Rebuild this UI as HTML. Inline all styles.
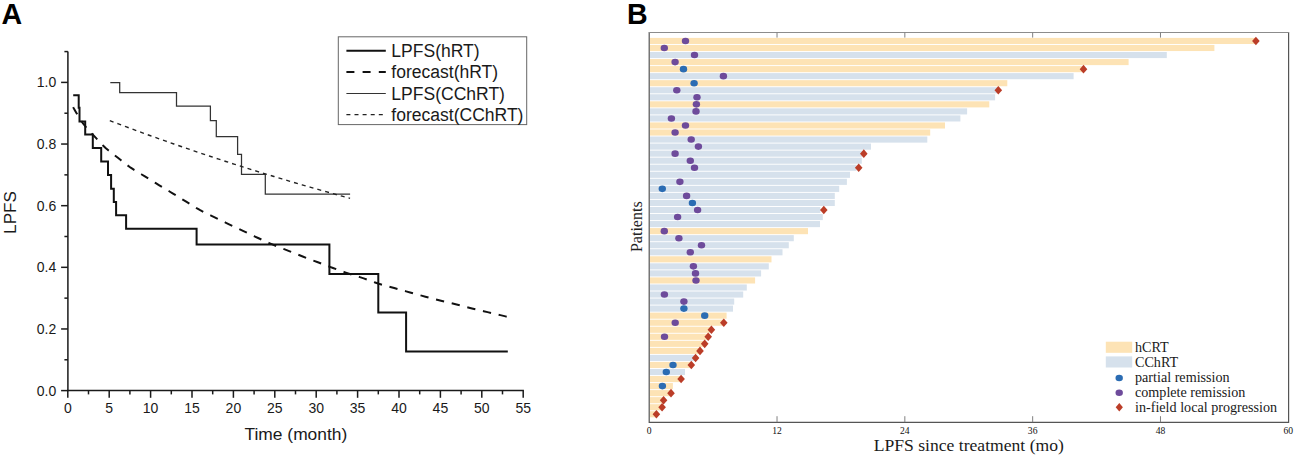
<!DOCTYPE html>
<html><head><meta charset="utf-8"><title>LPFS</title>
<style>html,body{margin:0;padding:0;background:#fff;}body{width:1297px;height:457px;overflow:hidden;}svg{display:block;}</style>
</head><body>
<svg width="1297" height="457" viewBox="0 0 1297 457">
<rect x="0" y="0" width="1297" height="457" fill="#fff"/>
<g fill="none" stroke="#1a1a1a" stroke-width="1.5">
<line x1="67.9" y1="51.4" x2="67.9" y2="391.3"/>
<line x1="67.1" y1="390.6" x2="523.9" y2="390.6"/>
<line x1="61.1" y1="390.6" x2="67.9" y2="390.6"/>
<line x1="64.4" y1="359.78" x2="67.9" y2="359.78"/>
<line x1="61.1" y1="328.96" x2="67.9" y2="328.96"/>
<line x1="64.4" y1="298.14" x2="67.9" y2="298.14"/>
<line x1="61.1" y1="267.32" x2="67.9" y2="267.32"/>
<line x1="64.4" y1="236.5" x2="67.9" y2="236.5"/>
<line x1="61.1" y1="205.68" x2="67.9" y2="205.68"/>
<line x1="64.4" y1="174.86" x2="67.9" y2="174.86"/>
<line x1="61.1" y1="144.04" x2="67.9" y2="144.04"/>
<line x1="64.4" y1="113.22" x2="67.9" y2="113.22"/>
<line x1="61.1" y1="82.4" x2="67.9" y2="82.4"/>
<line x1="64.4" y1="51.58" x2="67.9" y2="51.58"/>
<line x1="67.8" y1="390.6" x2="67.8" y2="397.8"/>
<line x1="88.5" y1="390.6" x2="88.5" y2="394.4"/>
<line x1="109.2" y1="390.6" x2="109.2" y2="397.8"/>
<line x1="129.9" y1="390.6" x2="129.9" y2="394.4"/>
<line x1="150.6" y1="390.6" x2="150.6" y2="397.8"/>
<line x1="171.3" y1="390.6" x2="171.3" y2="394.4"/>
<line x1="192" y1="390.6" x2="192" y2="397.8"/>
<line x1="212.7" y1="390.6" x2="212.7" y2="394.4"/>
<line x1="233.4" y1="390.6" x2="233.4" y2="397.8"/>
<line x1="254.1" y1="390.6" x2="254.1" y2="394.4"/>
<line x1="274.8" y1="390.6" x2="274.8" y2="397.8"/>
<line x1="295.5" y1="390.6" x2="295.5" y2="394.4"/>
<line x1="316.2" y1="390.6" x2="316.2" y2="397.8"/>
<line x1="336.9" y1="390.6" x2="336.9" y2="394.4"/>
<line x1="357.6" y1="390.6" x2="357.6" y2="397.8"/>
<line x1="378.3" y1="390.6" x2="378.3" y2="394.4"/>
<line x1="399" y1="390.6" x2="399" y2="397.8"/>
<line x1="419.7" y1="390.6" x2="419.7" y2="394.4"/>
<line x1="440.4" y1="390.6" x2="440.4" y2="397.8"/>
<line x1="461.1" y1="390.6" x2="461.1" y2="394.4"/>
<line x1="481.8" y1="390.6" x2="481.8" y2="397.8"/>
<line x1="502.5" y1="390.6" x2="502.5" y2="394.4"/>
<line x1="523.2" y1="390.6" x2="523.2" y2="397.8"/>
</g>
<g font-family="Liberation Sans, sans-serif" font-size="14" fill="#1a1a1a">
<text x="56.3" y="395.5" text-anchor="end">0.0</text>
<text x="56.3" y="333.86" text-anchor="end">0.2</text>
<text x="56.3" y="272.22" text-anchor="end">0.4</text>
<text x="56.3" y="210.58" text-anchor="end">0.6</text>
<text x="56.3" y="148.94" text-anchor="end">0.8</text>
<text x="56.3" y="87.3" text-anchor="end">1.0</text>
<text x="67.8" y="412.6" text-anchor="middle">0</text>
<text x="109.2" y="412.6" text-anchor="middle">5</text>
<text x="150.6" y="412.6" text-anchor="middle">10</text>
<text x="192" y="412.6" text-anchor="middle">15</text>
<text x="233.4" y="412.6" text-anchor="middle">20</text>
<text x="274.8" y="412.6" text-anchor="middle">25</text>
<text x="316.2" y="412.6" text-anchor="middle">30</text>
<text x="357.6" y="412.6" text-anchor="middle">35</text>
<text x="399" y="412.6" text-anchor="middle">40</text>
<text x="440.4" y="412.6" text-anchor="middle">45</text>
<text x="481.8" y="412.6" text-anchor="middle">50</text>
<text x="523.2" y="412.6" text-anchor="middle">55</text>
</g>
<text x="295.9" y="439.6" text-anchor="middle" font-family="Liberation Sans, sans-serif" font-size="17.4" fill="#1a1a1a">Time (month)</text>
<text transform="translate(15.7,212.5) rotate(-90)" text-anchor="middle" font-family="Liberation Sans, sans-serif" font-size="17.1" fill="#1a1a1a">LPFS</text>
<text x="1.5" y="23.8" font-family="Liberation Sans, sans-serif" font-size="28.6" font-weight="bold" fill="#000">A</text>
<polyline fill="none" stroke="#111" stroke-width="2" points="73.2,95.2 78.7,95.2 78.7,107.7 79.5,107.7 79.5,121.5 85.2,121.5 85.2,134.5 92.8,134.5 92.8,148 101.2,148 101.2,161.4 108,161.4 108,175 111.1,175 111.1,188.8 113.8,188.8 113.8,202.1 116.1,202.1 116.1,215.2 126.1,215.2 126.1,228.8 196.6,228.8 196.6,244.6 329.4,244.6 329.4,274.1 378.3,274.1 378.3,312.5 406.1,312.5 406.1,351.4 507.8,351.4"/>
<polyline fill="none" stroke="#333" stroke-width="1.25" points="110.3,82.5 119.7,82.5 119.7,92.5 176.5,92.5 176.5,106.1 210.4,106.1 210.4,120.7 216.3,120.7 216.3,136.5 237.6,136.5 237.6,154.4 241.5,154.4 241.5,174.4 265.3,174.4 265.3,194.1 350.1,194.1"/>
<polyline fill="none" stroke="#111" stroke-width="2" stroke-dasharray="8.3 7.8" points="73.2,107.1 73.4,107.53 73.66,108.11 74.16,109.08 75.1,110.7 76.57,113.23 78.45,116.46 80.63,119.99 83,123.4 85.63,126.66 88.55,129.97 91.57,133.25 94.5,136.4 97.28,139.42 100,142.34 102.75,145.17 105.6,147.9 108.58,150.49 111.64,152.95 114.76,155.36 117.9,157.8 121.03,160.3 124.18,162.83 127.39,165.31 130.7,167.7 134.16,169.96 137.72,172.12 141.33,174.25 144.9,176.4 148.42,178.59 151.93,180.78 155.43,182.96 158.9,185.1 162.35,187.18 165.78,189.22 169.19,191.25 172.6,193.3 176,195.38 179.38,197.48 182.77,199.59 186.2,201.7 189.66,203.85 193.14,206.03 196.66,208.17 200.2,210.2 203.79,212.08 207.42,213.84 211.07,215.56 214.7,217.3 218.31,219.06 221.91,220.82 225.5,222.57 229.1,224.3 232.7,226.01 236.29,227.71 239.89,229.4 243.5,231.1 247.13,232.82 250.78,234.56 254.43,236.29 258.1,238 261.78,239.71 265.48,241.41 269.18,243.09 272.9,244.7 276.64,246.23 280.4,247.7 284.16,249.14 287.9,250.6 291.6,252.08 295.29,253.56 298.98,255.03 302.7,256.5 306.47,257.96 310.28,259.41 314.1,260.86 317.9,262.3 321.68,263.74 325.45,265.18 329.22,266.6 333,268 336.79,269.38 340.57,270.74 344.38,272.09 348.2,273.4 352.06,274.67 355.95,275.9 359.84,277.13 363.7,278.4 367.52,279.75 371.31,281.15 375.1,282.52 378.9,283.8 382.7,284.93 386.51,285.96 390.33,286.96 394.2,288 398.15,289.11 402.15,290.25 406.15,291.39 410.1,292.5 413.96,293.57 417.77,294.62 421.57,295.66 425.4,296.7 429.28,297.74 433.18,298.78 437.09,299.81 441,300.8 444.9,301.75 448.81,302.66 452.71,303.56 456.6,304.5 460.46,305.49 464.3,306.51 468.14,307.52 472,308.5 475.88,309.42 479.77,310.31 483.67,311.2 487.6,312.1 491.83,313.1 496.26,314.16 500.33,315.14 503.5,315.9 505.49,316.39 506.64,316.69 507.3,316.87 507.8,317"/>
<polyline fill="none" stroke="#222" stroke-width="1.4" stroke-dasharray="4 4.1" points="109.78,120.62 113.78,122.14 117.79,123.66 121.79,125.16 125.8,126.66 129.8,128.15 133.81,129.63 137.81,131.1 141.82,132.57 145.82,134.02 149.83,135.47 153.83,136.91 157.84,138.34 161.84,139.77 165.85,141.18 169.85,142.59 173.86,143.99 177.86,145.38 181.87,146.76 185.87,148.14 189.87,149.51 193.88,150.87 197.88,152.22 201.89,153.57 205.89,154.9 209.9,156.23 213.9,157.56 217.91,158.87 221.91,160.18 225.92,161.48 229.92,162.77 233.93,164.06 237.93,165.34 241.94,166.61 245.94,167.87 249.95,169.13 253.95,170.38 257.96,171.62 261.96,172.86 265.97,174.08 269.97,175.31 273.97,176.52 277.98,177.73 281.98,178.93 285.99,180.12 289.99,181.31 294,182.49 298,183.67 302.01,184.84 306.01,186 310.02,187.15 314.02,188.3 318.03,189.44 322.03,190.58 326.04,191.7 330.04,192.83 334.05,193.94 338.05,195.05 342.06,196.16 346.06,197.25 350.07,198.34"/>
<rect x="338.3" y="36.8" width="188.4" height="87.8" fill="none" stroke="#666" stroke-width="1"/>
<line x1="346.4" y1="50.8" x2="385.8" y2="50.8" stroke="#111" stroke-width="2"/>
<line x1="346.4" y1="72.0" x2="385.8" y2="72.0" stroke="#111" stroke-width="2" stroke-dasharray="8 8.2"/>
<line x1="346.4" y1="93.5" x2="385.8" y2="93.5" stroke="#333" stroke-width="1.1"/>
<line x1="346.4" y1="114.7" x2="385.8" y2="114.7" stroke="#222" stroke-width="1.2" stroke-dasharray="4 4.1"/>
<g font-family="Liberation Sans, sans-serif" font-size="17.55" fill="#1a1a1a">
<text x="391.3" y="57">LPFS(hRT)</text>
<text x="391.3" y="78.2">forecast(hRT)</text>
<text x="391.3" y="99.7">LPFS(CChRT)</text>
<text x="391.3" y="120.9">forecast(CChRT)</text>
</g>
<rect x="649.7" y="37.9" width="605.9" height="6.1" fill="#fde3b5"/>
<rect x="649.7" y="44.94" width="564.7" height="6.1" fill="#fde3b5"/>
<rect x="649.7" y="51.99" width="517.1" height="6.1" fill="#d6e1ec"/>
<rect x="649.7" y="59.03" width="478.9" height="6.1" fill="#fde3b5"/>
<rect x="649.7" y="66.08" width="433.5" height="6.1" fill="#fde3b5"/>
<rect x="649.7" y="73.12" width="423.9" height="6.1" fill="#d6e1ec"/>
<rect x="649.7" y="80.16" width="357.6" height="6.1" fill="#fde3b5"/>
<rect x="649.7" y="87.21" width="348.3" height="6.1" fill="#d6e1ec"/>
<rect x="649.7" y="94.25" width="345.4" height="6.1" fill="#d6e1ec"/>
<rect x="649.7" y="101.3" width="339.6" height="6.1" fill="#fde3b5"/>
<rect x="649.7" y="108.34" width="317.4" height="6.1" fill="#d6e1ec"/>
<rect x="649.7" y="115.38" width="310.7" height="6.1" fill="#d6e1ec"/>
<rect x="649.7" y="122.43" width="295.3" height="6.1" fill="#fde3b5"/>
<rect x="649.7" y="129.47" width="280.5" height="6.1" fill="#fde3b5"/>
<rect x="649.7" y="136.52" width="277.6" height="6.1" fill="#d6e1ec"/>
<rect x="649.7" y="143.56" width="221.3" height="6.1" fill="#d6e1ec"/>
<rect x="649.7" y="150.6" width="212.3" height="6.1" fill="#d6e1ec"/>
<rect x="649.7" y="157.65" width="212.1" height="6.1" fill="#d6e1ec"/>
<rect x="649.7" y="164.69" width="206.8" height="6.1" fill="#d6e1ec"/>
<rect x="649.7" y="171.74" width="200.3" height="6.1" fill="#d6e1ec"/>
<rect x="649.7" y="178.78" width="197.2" height="6.1" fill="#d6e1ec"/>
<rect x="649.7" y="185.82" width="189.5" height="6.1" fill="#d6e1ec"/>
<rect x="649.7" y="192.87" width="185.1" height="6.1" fill="#d6e1ec"/>
<rect x="649.7" y="199.91" width="185.1" height="6.1" fill="#d6e1ec"/>
<rect x="649.7" y="206.96" width="170.7" height="6.1" fill="#d6e1ec"/>
<rect x="649.7" y="214" width="173.1" height="6.1" fill="#d6e1ec"/>
<rect x="649.7" y="221.04" width="170.3" height="6.1" fill="#d6e1ec"/>
<rect x="649.7" y="228.09" width="158.3" height="6.1" fill="#fde3b5"/>
<rect x="649.7" y="235.13" width="144.1" height="6.1" fill="#d6e1ec"/>
<rect x="649.7" y="242.18" width="139.1" height="6.1" fill="#d6e1ec"/>
<rect x="649.7" y="249.22" width="132.8" height="6.1" fill="#d6e1ec"/>
<rect x="649.7" y="256.26" width="121.8" height="6.1" fill="#fde3b5"/>
<rect x="649.7" y="263.31" width="119.1" height="6.1" fill="#d6e1ec"/>
<rect x="649.7" y="270.35" width="111.4" height="6.1" fill="#d6e1ec"/>
<rect x="649.7" y="277.4" width="105.4" height="6.1" fill="#fde3b5"/>
<rect x="649.7" y="284.44" width="97.1" height="6.1" fill="#d6e1ec"/>
<rect x="649.7" y="291.48" width="93.5" height="6.1" fill="#d6e1ec"/>
<rect x="649.7" y="298.53" width="84.5" height="6.1" fill="#d6e1ec"/>
<rect x="649.7" y="305.57" width="83.3" height="6.1" fill="#d6e1ec"/>
<rect x="649.7" y="312.62" width="76.9" height="6.1" fill="#fde3b5"/>
<rect x="649.7" y="319.66" width="73.6" height="6.1" fill="#fde3b5"/>
<rect x="649.7" y="326.7" width="61.3" height="6.1" fill="#fde3b5"/>
<rect x="649.7" y="333.75" width="58.2" height="6.1" fill="#fde3b5"/>
<rect x="649.7" y="340.79" width="54.7" height="6.1" fill="#fde3b5"/>
<rect x="649.7" y="347.84" width="50" height="6.1" fill="#fde3b5"/>
<rect x="649.7" y="354.88" width="45.6" height="6.1" fill="#d6e1ec"/>
<rect x="649.7" y="361.92" width="41.3" height="6.1" fill="#fde3b5"/>
<rect x="649.7" y="368.97" width="35.3" height="6.1" fill="#d6e1ec"/>
<rect x="649.7" y="376.01" width="31.1" height="6.1" fill="#fde3b5"/>
<rect x="649.7" y="383.06" width="23.2" height="6.1" fill="#fde3b5"/>
<rect x="649.7" y="390.1" width="21" height="6.1" fill="#fde3b5"/>
<rect x="649.7" y="397.14" width="13.6" height="6.1" fill="#fde3b5"/>
<rect x="649.7" y="404.19" width="12.1" height="6.1" fill="#fde3b5"/>
<rect x="649.7" y="411.23" width="6.4" height="6.1" fill="#fde3b5"/>
<ellipse cx="685.5" cy="40.95" rx="3.7" ry="3.3" fill="#6e4b9b"/>
<path d="M1255.9 36.65L1259.7 40.95L1255.9 45.25L1252.1 40.95Z" fill="#bb3d28"/>
<ellipse cx="664.3" cy="47.99" rx="3.7" ry="3.3" fill="#6e4b9b"/>
<ellipse cx="694.5" cy="55.04" rx="3.7" ry="3.3" fill="#6e4b9b"/>
<ellipse cx="675.1" cy="62.08" rx="3.7" ry="3.3" fill="#6e4b9b"/>
<ellipse cx="683.5" cy="69.13" rx="3.7" ry="3.3" fill="#2b6cb3"/>
<path d="M1083.5 64.83L1087.3 69.13L1083.5 73.43L1079.7 69.13Z" fill="#bb3d28"/>
<ellipse cx="723.4" cy="76.17" rx="3.7" ry="3.3" fill="#6e4b9b"/>
<ellipse cx="694.1" cy="83.21" rx="3.7" ry="3.3" fill="#2b6cb3"/>
<ellipse cx="676.8" cy="90.26" rx="3.7" ry="3.3" fill="#6e4b9b"/>
<path d="M998.3 85.96L1002.1 90.26L998.3 94.56L994.5 90.26Z" fill="#bb3d28"/>
<ellipse cx="697" cy="97.3" rx="3.7" ry="3.3" fill="#6e4b9b"/>
<ellipse cx="696.4" cy="104.35" rx="3.7" ry="3.3" fill="#6e4b9b"/>
<ellipse cx="696" cy="111.39" rx="3.7" ry="3.3" fill="#6e4b9b"/>
<ellipse cx="671.4" cy="118.43" rx="3.7" ry="3.3" fill="#6e4b9b"/>
<ellipse cx="685.5" cy="125.48" rx="3.7" ry="3.3" fill="#6e4b9b"/>
<ellipse cx="675.1" cy="132.52" rx="3.7" ry="3.3" fill="#6e4b9b"/>
<ellipse cx="691.2" cy="139.57" rx="3.7" ry="3.3" fill="#6e4b9b"/>
<ellipse cx="698.4" cy="146.61" rx="3.7" ry="3.3" fill="#6e4b9b"/>
<ellipse cx="675.1" cy="153.65" rx="3.7" ry="3.3" fill="#6e4b9b"/>
<path d="M863.8 149.35L867.6 153.65L863.8 157.95L860 153.65Z" fill="#bb3d28"/>
<ellipse cx="690.3" cy="160.7" rx="3.7" ry="3.3" fill="#6e4b9b"/>
<ellipse cx="694.5" cy="167.74" rx="3.7" ry="3.3" fill="#6e4b9b"/>
<path d="M858.7 163.44L862.5 167.74L858.7 172.04L854.9 167.74Z" fill="#bb3d28"/>
<ellipse cx="679.9" cy="181.83" rx="3.7" ry="3.3" fill="#6e4b9b"/>
<ellipse cx="662.3" cy="188.87" rx="3.7" ry="3.3" fill="#2b6cb3"/>
<ellipse cx="686.6" cy="195.92" rx="3.7" ry="3.3" fill="#6e4b9b"/>
<ellipse cx="692.4" cy="202.96" rx="3.7" ry="3.3" fill="#2b6cb3"/>
<ellipse cx="697.6" cy="210.01" rx="3.7" ry="3.3" fill="#6e4b9b"/>
<path d="M823.8 205.71L827.6 210.01L823.8 214.31L820 210.01Z" fill="#bb3d28"/>
<ellipse cx="677.6" cy="217.05" rx="3.7" ry="3.3" fill="#6e4b9b"/>
<ellipse cx="664.3" cy="231.14" rx="3.7" ry="3.3" fill="#6e4b9b"/>
<ellipse cx="678.9" cy="238.18" rx="3.7" ry="3.3" fill="#6e4b9b"/>
<ellipse cx="701.5" cy="245.23" rx="3.7" ry="3.3" fill="#6e4b9b"/>
<ellipse cx="690.3" cy="252.27" rx="3.7" ry="3.3" fill="#6e4b9b"/>
<ellipse cx="693.4" cy="266.36" rx="3.7" ry="3.3" fill="#6e4b9b"/>
<ellipse cx="695.5" cy="273.4" rx="3.7" ry="3.3" fill="#6e4b9b"/>
<ellipse cx="696" cy="280.45" rx="3.7" ry="3.3" fill="#6e4b9b"/>
<ellipse cx="664.4" cy="294.53" rx="3.7" ry="3.3" fill="#6e4b9b"/>
<ellipse cx="683.9" cy="301.58" rx="3.7" ry="3.3" fill="#6e4b9b"/>
<ellipse cx="683.9" cy="308.62" rx="3.7" ry="3.3" fill="#2b6cb3"/>
<ellipse cx="704.7" cy="315.67" rx="3.7" ry="3.3" fill="#2b6cb3"/>
<ellipse cx="675.2" cy="322.71" rx="3.7" ry="3.3" fill="#6e4b9b"/>
<path d="M723.8 318.41L727.6 322.71L723.8 327.01L720 322.71Z" fill="#bb3d28"/>
<path d="M711.4 325.45L715.2 329.75L711.4 334.05L707.6 329.75Z" fill="#bb3d28"/>
<ellipse cx="664.5" cy="336.8" rx="3.7" ry="3.3" fill="#6e4b9b"/>
<path d="M708.2 332.5L712 336.8L708.2 341.1L704.4 336.8Z" fill="#bb3d28"/>
<path d="M704.7 339.54L708.5 343.84L704.7 348.14L700.9 343.84Z" fill="#bb3d28"/>
<path d="M700 346.59L703.8 350.89L700 355.19L696.2 350.89Z" fill="#bb3d28"/>
<path d="M695.6 353.63L699.4 357.93L695.6 362.23L691.8 357.93Z" fill="#bb3d28"/>
<ellipse cx="673" cy="364.97" rx="3.7" ry="3.3" fill="#2b6cb3"/>
<path d="M691.3 360.67L695.1 364.97L691.3 369.27L687.5 364.97Z" fill="#bb3d28"/>
<ellipse cx="666.3" cy="372.02" rx="3.7" ry="3.3" fill="#2b6cb3"/>
<path d="M681.1 374.76L684.9 379.06L681.1 383.36L677.3 379.06Z" fill="#bb3d28"/>
<ellipse cx="662.4" cy="386.11" rx="3.7" ry="3.3" fill="#2b6cb3"/>
<path d="M671 388.85L674.8 393.15L671 397.45L667.2 393.15Z" fill="#bb3d28"/>
<path d="M663.6 395.89L667.4 400.19L663.6 404.49L659.8 400.19Z" fill="#bb3d28"/>
<path d="M662.1 402.94L665.9 407.24L662.1 411.54L658.3 407.24Z" fill="#bb3d28"/>
<path d="M656.4 409.98L660.2 414.28L656.4 418.58L652.6 414.28Z" fill="#bb3d28"/>
<path d="M649.2 32.5V422.4H1288.6V32.5" fill="none" stroke="#555" stroke-width="1.2"/>
<line x1="648.6" y1="32.5" x2="1289.2" y2="32.5" stroke="#8c8c8c" stroke-width="1.1"/>
<line x1="777.02" y1="32.4" x2="777.02" y2="37.6" stroke="#808080" stroke-width="1"/>
<line x1="777.02" y1="422.2" x2="777.02" y2="416.2" stroke="#808080" stroke-width="1"/>
<line x1="904.84" y1="32.4" x2="904.84" y2="37.6" stroke="#808080" stroke-width="1"/>
<line x1="904.84" y1="422.2" x2="904.84" y2="416.2" stroke="#808080" stroke-width="1"/>
<line x1="1032.66" y1="32.4" x2="1032.66" y2="37.6" stroke="#808080" stroke-width="1"/>
<line x1="1032.66" y1="422.2" x2="1032.66" y2="416.2" stroke="#808080" stroke-width="1"/>
<line x1="1160.48" y1="32.4" x2="1160.48" y2="37.6" stroke="#808080" stroke-width="1"/>
<line x1="1160.48" y1="422.2" x2="1160.48" y2="416.2" stroke="#808080" stroke-width="1"/>
<g font-family="Liberation Serif, serif" font-size="9.6" fill="#111" text-anchor="middle">
<text x="649.2" y="433.6">0</text>
<text x="777.02" y="433.6">12</text>
<text x="904.84" y="433.6">24</text>
<text x="1032.66" y="433.6">36</text>
<text x="1160.48" y="433.6">48</text>
<text x="1288.3" y="433.6">60</text>
</g>
<text x="968.8" y="450.5" text-anchor="middle" font-family="Liberation Serif, serif" font-size="17.6" fill="#1a1a1a">LPFS since treatment (mo)</text>
<text transform="translate(641.5,226.7) rotate(-90)" text-anchor="middle" font-family="Liberation Serif, serif" font-size="16" fill="#222">Patients</text>
<text x="627" y="23.8" font-family="Liberation Sans, sans-serif" font-size="28.6" font-weight="bold" fill="#000">B</text>
<rect x="1105.8" y="341.7" width="26.4" height="11.1" fill="#fde3b5"/>
<rect x="1105.8" y="356.4" width="26.4" height="11.1" fill="#d6e1ec"/>
<ellipse cx="1119.2" cy="378" rx="3.7" ry="3.3" fill="#2b6cb3"/>
<ellipse cx="1119.2" cy="392.7" rx="3.7" ry="3.3" fill="#6e4b9b"/>
<path d="M1119.3 403L1122.9 407.3L1119.3 411.6L1115.7 407.3Z" fill="#bb3d28"/>
<g font-family="Liberation Serif, serif" font-size="14.15" fill="#1a1a1a">
<text x="1135" y="351.8">hCRT</text>
<text x="1135" y="366.8">CChRT</text>
<text x="1135" y="381.9">partial remission</text>
<text x="1135" y="396.7">complete remission</text>
<text x="1135" y="411.7">in-field local progression</text>
</g>
</svg>
</body></html>
